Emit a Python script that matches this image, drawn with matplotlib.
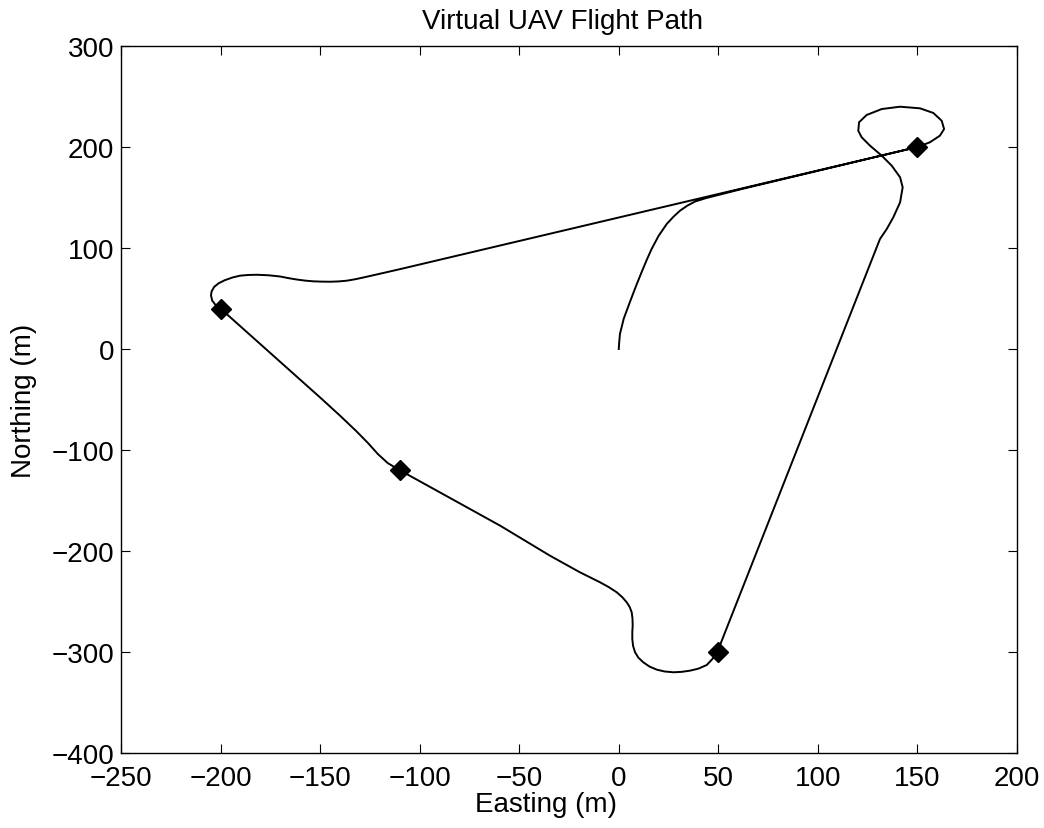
import matplotlib.pyplot as plt

plt.rcParams['font.family'] = ['Liberation Sans', 'DejaVu Sans']

# waypoints the vehicle is steered through
wp_east = [150, 50, -110, -200]
wp_north = [200, -300, -120, 40]

# flown track, from the origin round the circuit and back to the first waypoint
east = [0, 0.2, 0.6, 2.5, 5.6, 8.5, 11.5, 14, 16.5, 20, 24.1, 27.5, 30.8, 34.5,
        38.3, 44, 52, 62,
        150, 156.3, 161.3, 163.4, 162.2, 158.0, 151.3, 141.3, 132.1, 124.5,
        120.7, 120.3, 122.0, 126.2, 132.1, 137.1, 141.3, 142.6, 141.3, 137.9,
        134.6, 131.2,
        49.5, 47, 44.2, 40, 35.8, 31.5, 27.4, 23, 19.1, 15.5, 12.3, 9.8, 8.2,
        7.2, 6.8, 6.8, 7, 6.9, 6.5, 5.5, 4, 1.8, -1, -5, -9.4, -14.5, -19.5,
        -26, -34.5, -59.6,
        -110, -116, -121, -126, -132, -140, -150,
        -200, -202.5, -204.2, -204.8, -204.5, -203.2, -201, -198, -194, -190.2,
        -186, -181.9, -176, -170.1, -166, -161.8, -157.5, -153.4, -149, -145,
        -140.8, -136.7, -132.5, -128.3, -124, -120, -110,
        150]
north = [0, 6, 14.9, 30, 46.5, 61.5, 76.2, 88, 99, 112, 123.8, 131, 137, 142,
         146, 149.5, 153.5, 158.5,
         200, 204.7, 211.2, 217.8, 226.0, 233.7, 238.3, 239.9, 237.6, 231.7,
         224.5, 216.1, 209.6, 201.3, 191.4, 181.5, 170.0, 160.1, 145.2, 130.4,
         118.8, 108.9,
         -300, -307, -312.9, -316.5, -318.5, -319.7, -320.1, -319.3, -317.5,
         -314.5, -310.2, -305.5, -300.3,
         -294, -287.1, -280, -274, -267, -260.7, -255.5, -250.8, -245.8, -240.9,
         -235.8, -231, -226, -221.1,
         -214, -204.7, -174.9,
         -120, -113, -104, -93, -81, -66, -48,
         40, 43.5, 48, 53, 57, 61.5, 65, 68, 70.8, 72.6,
         73.3, 73.5, 73, 71.8, 70.2, 68.8, 67.7, 67, 66.7, 66.6,
         66.9, 67.6, 69, 70.8, 72.7, 74.5, 79,
         200]

fig = plt.figure(figsize=(10.44, 8.29), dpi=100)
ax = fig.add_axes([0.1159, 0.0905, 0.8582, 0.8528])

ax.plot(east, north, color='black', linewidth=1.4, solid_joinstyle='round')
ax.plot(wp_east, wp_north, linestyle='none', marker='D', markersize=10.5,
        markerfacecolor='black', markeredgecolor='black')

ax.set_xlim(-250, 200)
ax.set_ylim(-400, 300)
ax.set_xticks(range(-250, 201, 50))
ax.set_yticks(range(-400, 301, 100))
ax.tick_params(direction='in', top=True, right=True, length=6.5, width=0.8,
               labelsize=20)
ax.tick_params(axis='x', pad=9)
ax.tick_params(axis='y', pad=5)
for s in ax.spines.values():
    s.set_linewidth(1.0)

ax.set_title('Virtual UAV Flight Path', fontsize=20, pad=13, x=0.493)
ax.set_xlabel('Easting (m)', fontsize=20, labelpad=0)
ax.xaxis.label.set_x(0.474)
ax.set_ylabel('Northing (m)', fontsize=20, labelpad=10)

fig.savefig('out.png', dpi=100)
